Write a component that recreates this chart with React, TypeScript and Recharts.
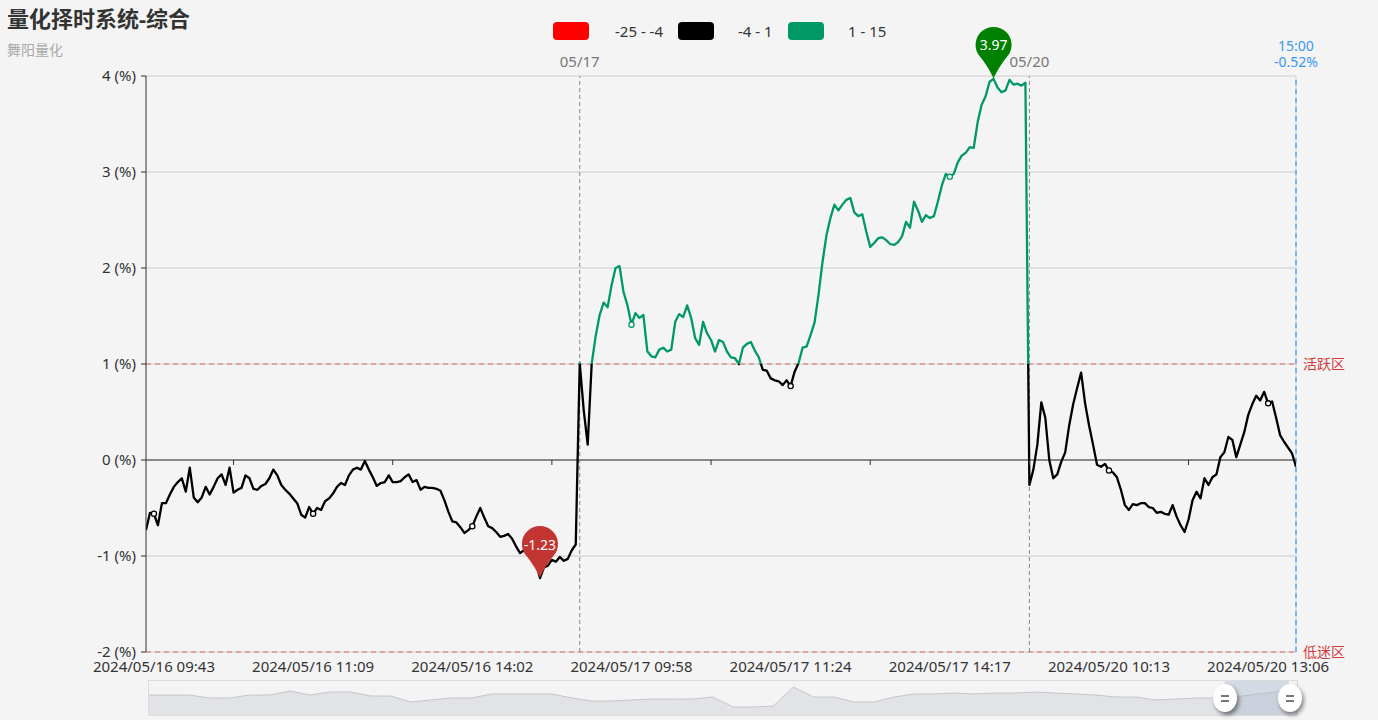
import React from "react";
import {
  ComposedChart,
  Line,
  XAxis,
  YAxis,
  CartesianGrid,
  ReferenceLine,
  ReferenceDot,
  AreaChart,
  Area,
  ReferenceArea,
} from "recharts";

// intraday composite signal, % — one array per trading day
const day1Values = [
  -0.73, -0.55, -0.56, -0.68, -0.45, -0.45, -0.36, -0.28, -0.23, -0.19,
  -0.33, -0.08, -0.39, -0.44, -0.39, -0.28, -0.36, -0.28, -0.19, -0.15,
  -0.26, -0.08, -0.34, -0.31, -0.29, -0.16, -0.19, -0.3, -0.31, -0.27,
  -0.25, -0.19, -0.1, -0.16, -0.26, -0.31, -0.35, -0.4, -0.45, -0.57,
  -0.6, -0.49, -0.56, -0.5, -0.52, -0.43, -0.4, -0.35, -0.28, -0.24,
  -0.26, -0.16, -0.1, -0.08, -0.1, -0.01, -0.1, -0.18, -0.27, -0.24,
  -0.23, -0.16, -0.23, -0.23, -0.22, -0.18, -0.15, -0.23, -0.21, -0.31,
  -0.28, -0.29, -0.29, -0.3, -0.32, -0.42, -0.54, -0.64, -0.65, -0.7,
  -0.76, -0.73, -0.69, -0.59, -0.5, -0.6, -0.69, -0.71, -0.75, -0.8,
  -0.79, -0.77, -0.82, -0.9, -0.97, -0.94, -0.99, -1.02, -1.07, -1.23,
  -1.12, -1.1, -1.04, -1.06, -1.01, -1.05, -1.03, -0.94, -0.88,
];
const day2Values = [
  1.01, 0.52, 0.16, 1.0, 1.29, 1.51, 1.64, 1.59, 1.82, 2.0,
  2.02, 1.75, 1.61, 1.41, 1.53, 1.48, 1.51, 1.13, 1.08, 1.07,
  1.15, 1.17, 1.13, 1.15, 1.44, 1.52, 1.49, 1.61, 1.48, 1.27,
  1.2, 1.44, 1.32, 1.25, 1.13, 1.25, 1.23, 1.13, 1.07, 1.06,
  1.0, 1.17, 1.21, 1.23, 1.14, 1.07, 0.94, 0.93, 0.85, 0.83,
  0.82, 0.78, 0.83, 0.77, 0.92, 1.01, 1.17, 1.18, 1.3, 1.43,
  1.72, 2.06, 2.34, 2.52, 2.66, 2.6, 2.66, 2.71, 2.73, 2.58,
  2.54, 2.56, 2.38, 2.22, 2.26, 2.31, 2.32, 2.29, 2.25, 2.24,
  2.27, 2.33, 2.48, 2.42, 2.69, 2.6, 2.48, 2.55, 2.52, 2.54,
  2.69, 2.86, 2.98, 2.95, 2.98, 3.1, 3.17, 3.2, 3.26, 3.25,
  3.52, 3.7, 3.79, 3.94, 3.97, 3.88, 3.83, 3.85, 3.96, 3.91,
  3.92, 3.9, 3.93,
];
const day3Values = [
  -0.26, -0.1, 0.16, 0.6, 0.44, 0.0, -0.19, -0.15, -0.02, 0.08,
  0.36, 0.58, 0.75, 0.91, 0.59, 0.36, 0.16, -0.05, -0.07, -0.04,
  -0.11, -0.13, -0.18, -0.31, -0.47, -0.52, -0.46, -0.47, -0.45, -0.45,
  -0.49, -0.5, -0.55, -0.54, -0.56, -0.57, -0.47, -0.59, -0.68, -0.75,
  -0.62, -0.42, -0.33, -0.4, -0.19, -0.26, -0.18, -0.15, 0.03, 0.08,
  0.24, 0.21, 0.03, 0.16, 0.29, 0.47, 0.58, 0.67, 0.62, 0.71,
  0.59, 0.61, 0.44, 0.26, 0.19, 0.13, 0.07, -0.07,
];

const timeLabels = [
  "2024/05/16 09:43",
  "2024/05/16 11:09",
  "2024/05/16 14:02",
  "2024/05/17 09:58",
  "2024/05/17 11:24",
  "2024/05/17 14:17",
  "2024/05/20 10:13",
  "2024/05/20 13:06",
];
const timeLabelIdx = [2, 42, 82, 122, 162, 202, 242, 282];

const dayStarts = [
  { idx: 109, label: "05/17" },
  { idx: 222, label: "05/20" },
];

const yTicks = [-2, -1, 0, 1, 2, 3, 4];
const zones = [
  { value: 1, label: "活跃区" },
  { value: -2, label: "低迷区" },
];

const pieces = [
  { min: -25, max: -4, label: "-25 - -4", color: "#ff0000" },
  { min: -4, max: 1, label: "-4 - 1", color: "#000000" },
  { min: 1, max: 15, label: "1 - 15", color: "#009966" },
];

const endTime = "15:00";
const endChange = "-0.52%";

// slider overview (longer history), relative heights
const overviewValues = [
  20, 20, 20, 17, 17, 20, 20, 24, 20, 23,
  23, 19, 19, 13, 15, 17, 17, 21, 21, 21,
  21, 17, 14, 14, 15, 16, 16, 16, 18, 8,
  8, 9, 28, 18, 18, 13, 13, 18, 21, 21,
  22, 21, 22, 22, 23, 22, 21, 20, 18, 18,
  15, 16, 17, 17, 18, 21, 23, 27,
];
const windowStart = 53.4;
const windowEnd = 56.6;

const FONT = "'Noto Sans', 'Noto Sans CJK SC', sans-serif";
const W = 1378;
const H = 720;
const MARGIN = { top: 76, right: 82, bottom: 48, left: 0 };
const X_AXIS_H = 20;
const Y_AXIS_W = 146;
const PLOT_TOP = MARGIN.top;
const PLOT_BOTTOM = H - MARGIN.bottom - X_AXIS_H;
const Y_MIN = -2;
const Y_MAX = 4;
const LEGEND_X = [553, 678, 788];

const values = [...day1Values, ...day2Values, ...day3Values];
const data = values.map((v, i) => ({ i, v }));
const lastIdx = values.length - 1;
const minIdx = values.indexOf(Math.min(...values));
const maxIdx = values.indexOf(Math.max(...values));
const axisTickIdx = timeLabelIdx.slice(1).map((t, k) => (t + timeLabelIdx[k]) / 2);

const colorFor = (v: number) => {
  const p = pieces.find((pc) => v >= pc.min && v <= pc.max);
  return p ? p.color : "#000";
};

const offsetOf = (v: number) => Math.min(1, Math.max(0, (Y_MAX - v) / (Y_MAX - Y_MIN)));

const gradientStops = [...pieces]
  .sort((a, b) => b.max - a.max)
  .flatMap((p) => [
    { offset: offsetOf(p.max), color: p.color },
    { offset: offsetOf(p.min), color: p.color },
  ]);

const Pin = ({ cx, cy, color, text }: { cx: number; cy: number; color: string; text: string }) => {
  const r = 18;
  const hy = cy - 34;
  const a = 0.86;
  const lx = cx - r * Math.sin(a);
  const rx = cx + r * Math.sin(a);
  const ly = hy + r * Math.cos(a);
  const d = `M${cx},${cy} C${cx - 2},${cy - 6} ${lx + 3.9},${ly + 4.5} ${lx},${ly} A${r},${r} 0 1 1 ${rx},${ly} C${rx - 3.9},${ly + 4.5} ${cx + 2},${cy - 6} ${cx},${cy} Z`;
  return (
    <g>
      <path d={d} fill={color} />
      <text x={cx} y={hy} textAnchor="middle" dominantBaseline="central" fill="#fff" fontSize={14} fontFamily={FONT}>
        {text}
      </text>
    </g>
  );
};

const LabelDot = (props: any) => {
  const { cx, cy, payload, index } = props;
  if (!timeLabelIdx.includes(payload.i)) return <g key={`d${index}`} />;
  return (
    <circle key={`d${index}`} cx={cx} cy={cy} r={2.6} fill="#fff" stroke={colorFor(payload.v)} strokeWidth={1.3} />
  );
};

const EndLabel = (props: any) => {
  const { viewBox } = props;
  const x = viewBox.x;
  const y = viewBox.y;
  return (
    <g fontFamily={FONT} fontSize={14} fill="#3a98f2" textAnchor="middle">
      <text x={x} y={y - 25}>{endTime}</text>
      <text x={x} y={y - 9}>{endChange}</text>
    </g>
  );
};

const Handle = ({ left }: { left: number }) => (
  <div
    style={{
      position: "absolute",
      left: left - 12,
      top: 684,
      width: 24,
      height: 28,
      borderRadius: "50%",
      background: "#fff",
      boxShadow: "2px 3px 4px rgba(0,0,0,0.45)",
    }}
  >
    <div style={{ position: "absolute", left: 8, top: 11, width: 8, height: 1.5, background: "#777" }} />
    <div style={{ position: "absolute", left: 8, top: 16, width: 8, height: 1.5, background: "#777" }} />
  </div>
);

export default function App() {
  return (
    <div style={{ position: "fixed", inset: 0, background: "#f4f4f4", fontFamily: FONT, overflow: "hidden" }}>
      <div style={{ position: "absolute", left: 0, top: 0, width: W, height: H }}>
        <div style={{ position: "absolute", left: 7, top: 6, fontSize: 22, lineHeight: "24px", fontWeight: "bold", color: "#333" }}>
          量化择时系统-综合
        </div>
        <div style={{ position: "absolute", left: 7, top: 41, fontSize: 14, lineHeight: "18px", color: "#aaa" }}>
          舞阳量化
        </div>

        {pieces.map((p, k) => (
          <div key={p.label} style={{ position: "absolute", left: LEGEND_X[k], top: 22, display: "flex", alignItems: "center" }}>
            <div style={{ width: 36, height: 18, borderRadius: 4, background: p.color }} />
            <div style={{ marginLeft: k === 0 ? 26 : 24, fontSize: 15, color: "#333", lineHeight: "18px" }}>{p.label}</div>
          </div>
        ))}

        <div style={{ position: "absolute", left: 0, top: 0 }}>
          <ComposedChart width={W} height={H} data={data} margin={MARGIN}>
            <defs>
              <linearGradient id="lineColor" gradientUnits="userSpaceOnUse" x1={0} y1={PLOT_TOP} x2={0} y2={PLOT_BOTTOM}>
                {gradientStops.map((s, k) => (
                  <stop key={k} offset={s.offset} stopColor={s.color} />
                ))}
              </linearGradient>
            </defs>
            <CartesianGrid vertical={false} stroke="#cccccc" />
            <XAxis
              dataKey="i"
              type="number"
              domain={[0, lastIdx]}
              ticks={timeLabelIdx}
              interval={0}
              allowDataOverflow
              height={X_AXIS_H}
              axisLine={false}
              tickLine={false}
              tickMargin={3}
              tick={{ fill: "#333", fontSize: 15, fontFamily: FONT }}
              tickFormatter={(v: number) => timeLabels[timeLabelIdx.indexOf(v)] ?? ""}
            />
            <YAxis
              type="number"
              domain={[Y_MIN, Y_MAX]}
              ticks={yTicks}
              interval={0}
              width={Y_AXIS_W}
              axisLine={{ stroke: "#333" }}
              tickLine={{ stroke: "#333" }}
              tickSize={5}
              tickMargin={5}
              tick={{ fill: "#333", fontSize: 15, fontFamily: FONT }}
              tickFormatter={(v: number) => `${v} (%)`}
            />
            <ReferenceLine x={lastIdx} stroke="#cccccc" />
            <ReferenceLine y={0} stroke="#333" />
            {axisTickIdx.map((t) => (
              <ReferenceDot
                key={`t${t}`}
                x={t}
                y={0}
                r={0}
                shape={(p: any) => <line x1={p.cx} y1={p.cy} x2={p.cx} y2={p.cy + 5} stroke="#333" />}
              />
            ))}
            {zones.map((z) => (
              <ReferenceLine
                key={z.label}
                y={z.value}
                stroke="#d56b6b"
                strokeDasharray="5 4"
                label={{ value: z.label, position: "right", offset: 7, fill: "#d23a3a", fontSize: 14, fontFamily: FONT }}
              />
            ))}
            {dayStarts.map((d) => (
              <ReferenceLine
                key={d.label}
                x={d.idx}
                stroke="#888"
                strokeDasharray="4 3"
                label={{ value: d.label, position: "top", offset: 9, fill: "#777", fontSize: 15, fontFamily: FONT }}
              />
            ))}
            <ReferenceLine x={lastIdx} stroke="#3a98f2" strokeDasharray="5 4" strokeWidth={1.2} label={<EndLabel />} />
            <Line
              type="linear"
              dataKey="v"
              stroke="url(#lineColor)"
              strokeWidth={2.3}
              strokeLinejoin="round"
              dot={LabelDot}
              activeDot={false}
              isAnimationActive={false}
            />
            <ReferenceDot
              x={minIdx}
              y={values[minIdx]}
              r={0}
              shape={(p: any) => <Pin cx={p.cx} cy={p.cy} color="#c23531" text={values[minIdx].toFixed(2)} />}
            />
            <ReferenceDot
              x={maxIdx}
              y={values[maxIdx]}
              r={0}
              shape={(p: any) => <Pin cx={p.cx} cy={p.cy} color="#008000" text={values[maxIdx].toFixed(2)} />}
            />
          </ComposedChart>
        </div>

        <div
          style={{
            position: "absolute",
            left: 148,
            top: 680,
            width: 1150,
            height: 36,
            border: "1px solid #dcdcdc",
            boxSizing: "border-box",
          }}
        >
          <AreaChart
            width={1148}
            height={34}
            data={overviewValues.map((v, k) => ({ k, v }))}
            margin={{ top: 0, right: 0, bottom: 0, left: 0 }}
          >
            <XAxis dataKey="k" type="number" domain={[0, overviewValues.length - 1]} hide />
            <YAxis domain={[0, 34]} hide />
            <Area
              type="linear"
              dataKey="v"
              stroke="#c4c6ca"
              strokeWidth={1}
              fill="#e2e3e6"
              fillOpacity={1}
              isAnimationActive={false}
            />
            <ReferenceArea x1={windowStart} x2={windowEnd} fill="#aebbd0" fillOpacity={0.45} stroke="none" />
          </AreaChart>
        </div>
        <Handle left={1225} />
        <Handle left={1290} />
      </div>
    </div>
  );
}
